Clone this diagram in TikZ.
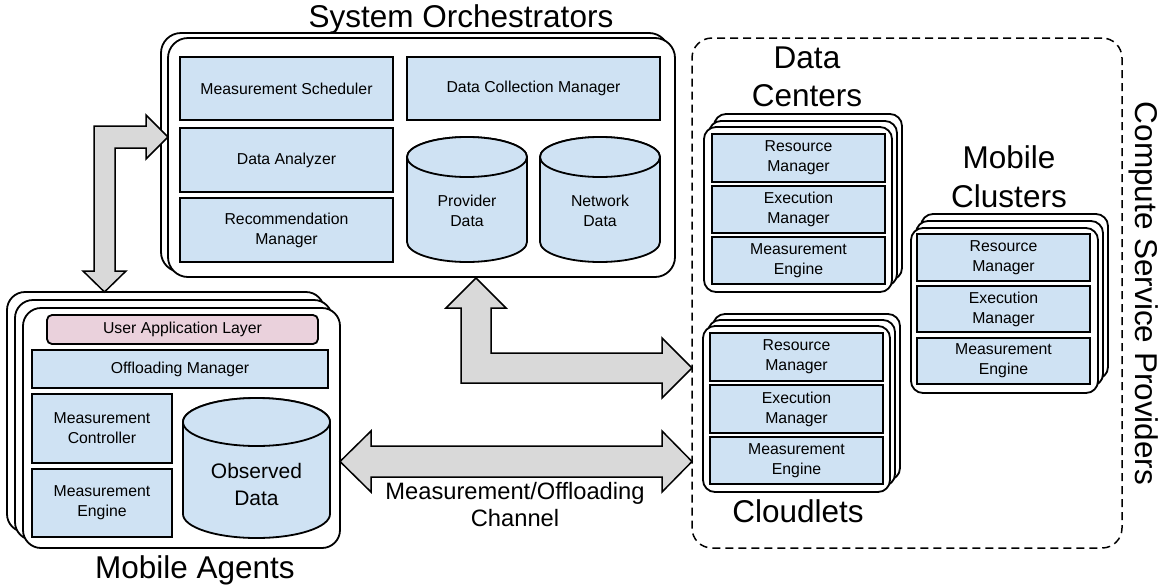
\documentclass[tikz,border=0pt]{standalone}
\usepackage{fontspec}
\setmainfont{Liberation Sans}
\definecolor{boxblue}{HTML}{CFE2F3}
\definecolor{appink}{HTML}{EAD1DC}
\definecolor{arrowgray}{HTML}{D9D9D9}
\newcommand\partfont{\fontsize{15.8}{20}\selectfont}
\newcommand\bigfont{\fontsize{31.5}{38}\selectfont}
% box given by its corners: style, name, x1, y1, x2, y2, text
\newcommand\rbox[7]{\node[#1, minimum width={(#5)-(#3)}, minimum height={(#6)-(#4)}] (#2) at ({((#3)+(#5))/2},{((#4)+(#6))/2}) {#7};}
% database cylinder: x1, x2, top-ellipse centre y, bottom-ellipse centre y, y radius
\newcommand\dbcylinder[5]{%
  \pgfmathsetmacro\cylrx{((#2)-(#1))/2}%
  \draw[cyl] (#1,#3) -- (#1,#4) arc[start angle=180,end angle=360,x radius=\cylrx pt,y radius=#5pt]
     -- (#2,#3) arc[start angle=0,end angle=180,x radius=\cylrx pt,y radius=#5pt] -- cycle;
  \draw[cyl] ({((#1)+(#2))/2},#3) ellipse[x radius=\cylrx pt,y radius=#5pt];
}
\begin{document}
\begin{tikzpicture}[x=1pt,y=-1pt,
  every node/.style={inner sep=0pt,outer sep=0pt},
  frame/.style={draw=black,line width=1.8pt,fill=white,rounded corners=#1},
  frame/.default=14pt,
  part/.style={draw=black,line width=1.8pt,fill=boxblue,align=center,font=\partfont},
  apppart/.style={part,fill=appink,rounded corners=5pt},
  cyl/.style={draw=black,line width=1.8pt,fill=boxblue},
  cyltext/.style={align=center,font=\partfont},
  title/.style={font=\bigfont},
  blockarrow/.style={draw=black,line width=1.5pt,fill=arrowgray,line join=miter},
  provider/.style={draw=black,line width=1.5pt,dash pattern=on 8pt off 5pt,rounded corners=20pt}]
\useasboundingbox (0,0) rectangle (1170,587);

% ---------- Compute service providers (dashed group) ----------
\rbox{provider}{csp}{692}{38}{1122}{548}{}
\node[title,rotate=-90,anchor=base] (csptitle) at (1135,293.5) {Compute Service Providers};

% ---------- System orchestrators ----------
\rbox{frame=20pt}{soback}{161}{33}{669}{272}{}
\rbox{frame=20pt}{so}{168}{38}{675}{277}{}
\node[title,anchor=base] (sotitle) at (461,27) {System Orchestrators};
\rbox{part}{msched}{180}{57}{393}{120}{Measurement Scheduler}
\rbox{part}{dan}{180}{128}{393}{192}{Data Analyzer}
\rbox{part}{recm}{180}{198}{393}{262}{Recommendation\\Manager}
\rbox{part}{dcm}{407}{57}{660}{120}{Data Collection Manager}
\dbcylinder{407}{527}{157}{242}{20}
\node[cyltext] (provdata) at (467,211) {Provider\\Data};
\dbcylinder{540}{660}{157}{242}{20}
\node[cyltext] (netdata) at (600,211) {Network\\Data};

% ---------- Mobile agents ----------
\rbox{frame=18pt}{maback}{7}{292}{324}{532}{}
\rbox{frame=18pt}{mamid}{15}{300}{332}{540}{}
\rbox{frame=18pt}{ma}{23}{308}{340}{548}{}
\node[title,anchor=base] (matitle) at (195,578) {Mobile Agents};
\rbox{apppart}{ual}{47}{315}{318}{344}{User Application Layer}
\rbox{part}{offm}{32}{350}{328}{388}{Offloading Manager}
\rbox{part}{mctl}{32}{394}{172}{463}{Measurement\\Controller}
\rbox{part}{maeng}{32}{469}{172}{537}{Measurement\\Engine}
\dbcylinder{183}{330}{422}{514}{24}
\node[align=center,font=\fontsize{21}{27}\selectfont] (obsdata) at (256.5,484) {Observed\\Data};

% ---------- Data centers ----------
\node[title,anchor=base] (dctitle1) at (807,68) {Data};
\node[title,anchor=base] (dctitle2) at (807,106) {Centers};
\rbox{frame=12pt}{dcback}{714}{114}{902}{280}{}
\rbox{frame=12pt}{dcmid}{709}{121}{897}{286}{}
\rbox{frame=12pt}{dc}{704}{127}{892}{292}{}
\rbox{part}{dcres}{712}{134}{885}{182}{Resource\\Manager}
\rbox{part}{dcexe}{712}{186}{885}{233}{Execution\\Manager}
\rbox{part}{dceng}{712}{237}{885}{284}{Measurement\\Engine}

% ---------- Mobile clusters ----------
\node[title,anchor=base] (mctitle1) at (1009,168) {Mobile};
\node[title,anchor=base] (mctitle2) at (1009,207) {Clusters};
\rbox{frame=12pt}{mcback}{921}{214}{1108}{379}{}
\rbox{frame=12pt}{mcmid}{916}{221}{1103}{386}{}
\rbox{frame=12pt}{mc}{911}{228}{1098}{393}{}
\rbox{part}{mcres}{917}{234}{1090}{281}{Resource\\Manager}
\rbox{part}{mcexe}{917}{286}{1090}{332}{Execution\\Manager}
\rbox{part}{mceng}{917}{338}{1090}{384}{Measurement\\Engine}

% ---------- Cloudlets ----------
\rbox{frame=12pt}{clback}{713}{314}{900}{480}{}
\rbox{frame=12pt}{clmid}{708}{320}{895}{486}{}
\rbox{frame=12pt}{cl}{703}{326}{890}{492}{}
\rbox{part}{clres}{710}{333}{883}{381}{Resource\\Manager}
\rbox{part}{clexe}{710}{385}{883}{433}{Execution\\Manager}
\rbox{part}{cleng}{710}{437}{883}{484}{Measurement\\Engine}
\node[title,anchor=base] (cltitle) at (798,522) {Cloudlets};

% ---------- Block arrows ----------
% mobile agents <-> system orchestrators
\draw[blockarrow] (94,126) -- (146,126) -- (146,115) -- (168,137) -- (146,159) -- (146,148)
  -- (115,148) -- (115,271) -- (126,271) -- (104.5,292) -- (83,271) -- (94,271) -- cycle;
% system orchestrators <-> providers
\draw[blockarrow] (461,383) -- (461,308) -- (446,308) -- (476,278) -- (506,308) -- (491,308)
  -- (491,353) -- (662,353) -- (662,338) -- (692,368) -- (662,398) -- (662,383) -- cycle;
% mobile agents <-> providers
\draw[blockarrow] (340,461.5) -- (371,431) -- (371,446) -- (662,446) -- (662,431) -- (692,461.5)
  -- (662,492) -- (662,477) -- (371,477) -- (371,492) -- cycle;
\node[font=\fontsize{23.7}{27}\selectfont,anchor=base] (chan1) at (515,499) {Measurement/Offloading};
\node[font=\fontsize{23.7}{27}\selectfont,anchor=base] (chan2) at (515,526) {Channel};
\end{tikzpicture}
\end{document}
